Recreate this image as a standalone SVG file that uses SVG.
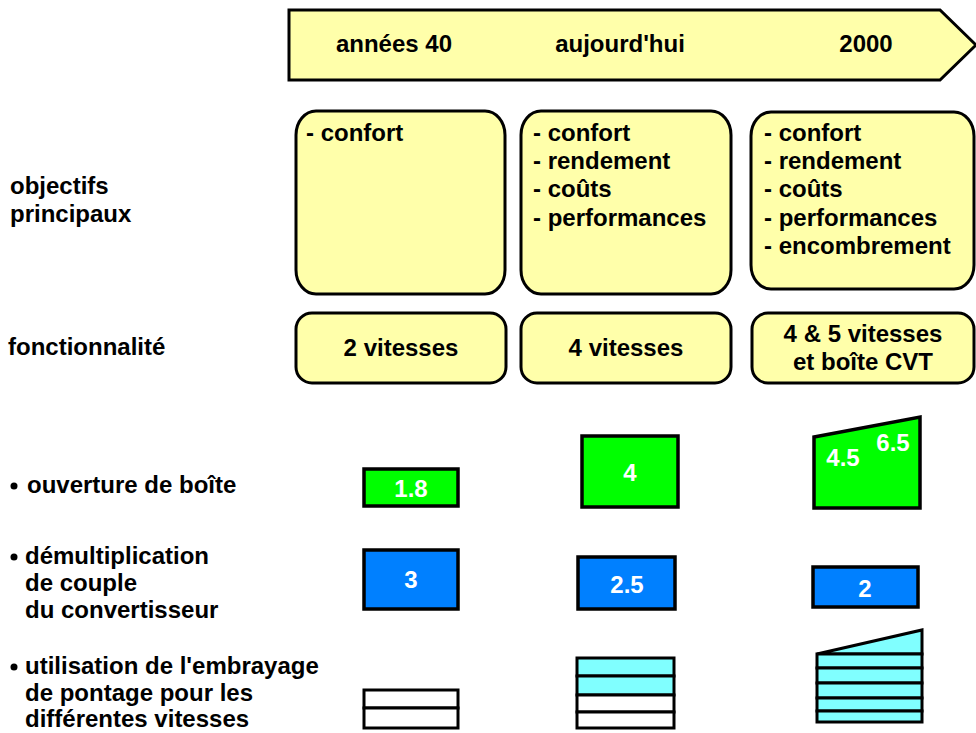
<svg xmlns="http://www.w3.org/2000/svg" width="976" height="733" viewBox="0 0 976 733">
<style>
text{font-family:"Liberation Sans",Arial,sans-serif;font-weight:bold;font-size:24px;fill:#000}
.y{fill:#FFFFAA;stroke:#000;stroke-width:3}
.g{fill:#00FF00;stroke:#000;stroke-width:3.5}
.b{fill:#0080FF;stroke:#000;stroke-width:3.5}
.c{fill:#80FFFF;stroke:#000;stroke-width:3}
.w{fill:#FFFFFF;stroke:#000;stroke-width:3}
.wt{fill:#FFFFFF}
.m{text-anchor:middle}
</style>
<rect width="976" height="733" fill="#FFFFFF"/>
<g id="banner">
<polygon class="y" points="289,10 940,10 976,45 940,80 289,80"/>
<text x="394" y="52" class="m">années 40</text>
<text x="620" y="52" class="m">aujourd'hui</text>
<text x="866" y="52" class="m">2000</text>
</g>
<g id="labels">
<text x="10" y="194">objectifs</text>
<text x="10" y="222">principaux</text>
<text x="8" y="355">fonctionnalité</text>
<circle cx="14" cy="486" r="3.5"/>
<text x="27" y="493">ouverture de boîte</text>
<circle cx="14" cy="557" r="3.5"/>
<text x="25" y="564">démultiplication</text>
<text x="25" y="591">de couple</text>
<text x="25" y="618">du convertisseur</text>
<circle cx="14" cy="667" r="3.5"/>
<text x="25" y="674">utilisation de l'embrayage</text>
<text x="25" y="701">de pontage pour les</text>
<text x="25" y="727">différentes vitesses</text>
</g>
<g id="obj1">
<rect class="y" x="296" y="111" width="209" height="183" rx="20" ry="24"/>
<text x="306" y="141">- confort</text>
</g>
<g id="obj2">
<rect class="y" x="521" y="111" width="210" height="183" rx="20" ry="24"/>
<text x="533" y="141">- confort</text>
<text x="533" y="169">- rendement</text>
<text x="533" y="197">- coûts</text>
<text x="533" y="226">- performances</text>
</g>
<g id="obj3">
<rect class="y" x="751" y="112" width="223" height="177" rx="20" ry="24"/>
<text x="764" y="141">- confort</text>
<text x="764" y="169">- rendement</text>
<text x="764" y="197">- coûts</text>
<text x="764" y="226">- performances</text>
<text x="764" y="254">- encombrement</text>
</g>
<g id="fn1">
<rect class="y" x="296" y="313" width="210" height="70" rx="16"/>
<text x="401" y="356" class="m">2 vitesses</text>
</g>
<g id="fn2">
<rect class="y" x="521" y="313" width="210" height="70" rx="16"/>
<text x="626" y="356" class="m">4 vitesses</text>
</g>
<g id="fn3">
<rect class="y" x="752" y="313" width="222" height="70" rx="16"/>
<text x="863" y="342" class="m">4 &amp; 5 vitesses</text>
<text x="863" y="370" class="m">et boîte CVT</text>
</g>
<g id="ouv1">
<rect class="g" x="364" y="469" width="94" height="37"/>
<text x="411" y="497" class="m wt">1.8</text>
</g>
<g id="ouv2">
<rect class="g" x="582" y="436" width="96" height="71"/>
<text x="630" y="481" class="m wt">4</text>
</g>
<g id="ouv3">
<polygon class="g" points="814,437 920,417 920,508 814,508"/>
<text x="843" y="466" class="m wt">4.5</text>
<text x="893" y="451" class="m wt">6.5</text>
</g>
<g id="dem1">
<rect class="b" x="364" y="550" width="94" height="59"/>
<text x="411" y="588" class="m wt">3</text>
</g>
<g id="dem2">
<rect class="b" x="578" y="557" width="97" height="52"/>
<text x="627" y="593" class="m wt">2.5</text>
</g>
<g id="dem3">
<rect class="b" x="813" y="567" width="105" height="40"/>
<text x="865" y="597" class="m wt">2</text>
</g>
<g id="emb1">
<rect class="w" x="364" y="690" width="94" height="18"/>
<rect class="w" x="364" y="708" width="94" height="20"/>
</g>
<g id="emb2">
<rect class="c" x="577" y="658" width="97" height="18"/>
<rect class="c" x="577" y="676" width="97" height="19"/>
<rect class="w" x="577" y="695" width="97" height="17"/>
<rect class="w" x="577" y="712" width="97" height="16"/>
</g>
<g id="emb3">
<polygon class="c" points="817,654 922,630 922,654"/>
<rect class="c" x="817" y="654" width="105" height="14"/>
<rect class="c" x="817" y="668" width="105" height="15"/>
<rect class="c" x="817" y="683" width="105" height="15"/>
<rect class="c" x="817" y="698" width="105" height="13"/>
<rect class="c" x="817" y="711" width="105" height="11"/>
</g>
<g id="connectors"/>
</svg>
